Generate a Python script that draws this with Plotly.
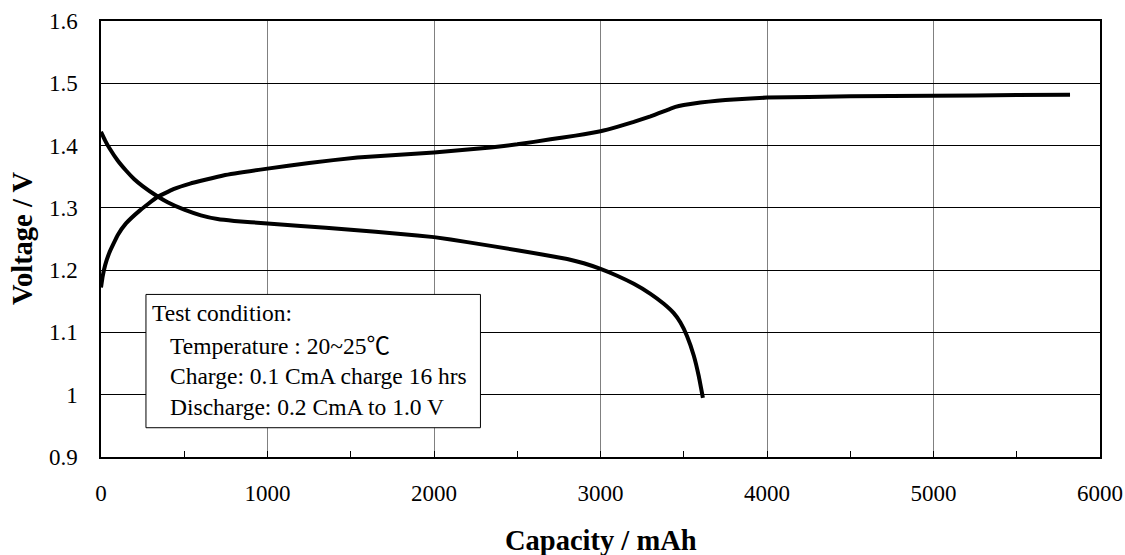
import plotly.graph_objects as go

# Charge curve (capacity mAh, voltage V)
charge_x = [0, 10, 25, 50, 100, 150, 234, 336, 435, 535, 734, 1000, 1250, 1540, 2000,
            2340, 2500, 2700, 2850, 3000, 3100, 3200, 3300, 3350, 3400, 3450, 3500,
            3600, 3700, 3800, 4000, 4500, 5000, 5500, 5820]
charge_y = [1.172, 1.190, 1.208, 1.228, 1.256, 1.275, 1.296, 1.317, 1.330, 1.339,
            1.352, 1.363, 1.372, 1.381, 1.389, 1.397, 1.402, 1.410, 1.416, 1.423,
            1.430, 1.438, 1.447, 1.452, 1.457, 1.462, 1.465, 1.469, 1.472, 1.474,
            1.477, 1.479, 1.480, 1.481, 1.4815]

# Discharge curve
discharge_x = [0, 25, 50, 100, 150, 200, 250, 336, 400, 500, 600, 700, 800, 1000,
               1200, 1500, 1800, 2000, 2200, 2500, 2800, 2900, 3000, 3100, 3200, 3300,
               3380, 3440, 3480, 3520, 3560, 3590, 3615]
discharge_y = [1.422, 1.408, 1.396, 1.376, 1.360, 1.346, 1.335, 1.319, 1.309, 1.297,
               1.288, 1.282, 1.279, 1.275, 1.271, 1.265, 1.258, 1.253, 1.245, 1.232,
               1.218, 1.211, 1.202, 1.191, 1.178, 1.162, 1.146, 1.131, 1.116, 1.094,
               1.063, 1.030, 0.995]

box_lines = ["Test condition:",
             "Temperature : 20~25<span style=\"font-family:'Noto Sans CJK JP'\">℃</span>",
             "Charge: 0.1 CmA charge 16 hrs",
             "Discharge: 0.2 CmA to 1.0 V"]

x_title = "Capacity / mAh"
y_title = "Voltage / V"

FONT = "Liberation Serif, Times New Roman, serif"

fig = go.Figure()
for xs, ys in [(charge_x, charge_y), (discharge_x, discharge_y)]:
    fig.add_trace(go.Scatter(x=xs, y=ys, mode="lines",
                             line=dict(color="black", width=4, shape="spline", smoothing=0.3),
                             showlegend=False, hoverinfo="skip"))

fig.add_shape(type="rect", xref="x", yref="y", x0=270, x1=2279, y0=0.947, y1=1.161,
              line=dict(color="black", width=1), fillcolor="white", layer="above")

line_y = [1.1317, 1.0819, 1.0305, 0.9807]
line_x = [295, 403, 403, 403]
for t, xx, yy in zip(box_lines, line_x, line_y):
    fig.add_annotation(x=xx, y=yy, xref="x", yref="y", text=t, showarrow=False,
                       xanchor="left", yanchor="middle",
                       font=dict(family=FONT, size=23.5, color="black"))

fig.add_annotation(x=0.5, y=(457 - 540) / 436, xref="paper", yref="paper",
                   text=f"<b>{x_title}</b>", showarrow=False,
                   font=dict(family=FONT, size=28.5, color="black"),
                   xanchor="center", yanchor="middle")
fig.add_annotation(x=(22 - 101) / 999, y=0.5, xref="paper", yref="paper",
                   text=f"<b>{y_title}</b>", showarrow=False, textangle=-90,
                   font=dict(family=FONT, size=28.5, color="black"),
                   xanchor="center", yanchor="middle")

fig.update_layout(
    width=1125, height=555,
    margin=dict(l=101, r=25, t=21, b=98, autoexpand=False),
    plot_bgcolor="white", paper_bgcolor="white",
    font=dict(family=FONT, size=23, color="black"),
)
fig.update_xaxes(range=[0, 6000], dtick=1000, tick0=0,
                 showgrid=True, gridcolor="#808080", gridwidth=1,
                 showline=True, mirror=True, linecolor="black", linewidth=1.5,
                 ticks="inside", ticklen=6, tickcolor="black",
                 minor=dict(dtick=500, ticks="inside", ticklen=6, tickcolor="black", showgrid=False),
                 ticklabelstandoff=15, zeroline=False, automargin=False,
                 tickfont=dict(family=FONT, size=23))
fig.update_yaxes(range=[0.9, 1.6], dtick=0.1, tick0=0.9,
                 showgrid=True, gridcolor="black", gridwidth=1,
                 showline=True, mirror=True, linecolor="black", linewidth=1.5,
                 ticks="", ticklabelstandoff=17, zeroline=False, automargin=False,
                 tickfont=dict(family=FONT, size=23))

fig.write_html("out.html", config={"displayModeBar": False},
               post_script="document.body.style.margin='0';document.body.style.overflow='hidden';")
